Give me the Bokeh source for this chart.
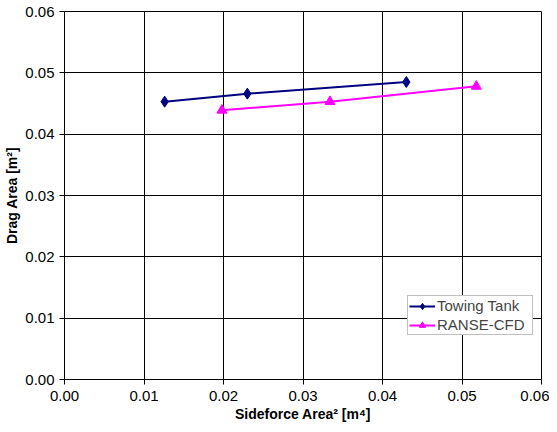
from bokeh.plotting import figure
from bokeh.embed import file_html
from bokeh.resources import INLINE
from bokeh.models import Range1d, FixedTicker, Legend, LegendItem, NumeralTickFormatter

tow_x = [0.0126, 0.0230, 0.0430]
tow_y = [0.0453, 0.0466, 0.0485]
cfd_x = [0.0198, 0.0334, 0.0518]
cfd_y = [0.0439, 0.0453, 0.0478]
ticks = [0.0, 0.01, 0.02, 0.03, 0.04, 0.05, 0.06]

p = figure(width=549, height=424, output_backend="svg", toolbar_location=None,
           x_range=Range1d(0, 0.06), y_range=Range1d(0, 0.06),
           min_border_left=64, min_border_right=8, min_border_top=11, min_border_bottom=45)
p.outline_line_color = "black"
p.outline_line_width = 1
p.background_fill_color = "white"
p.border_fill_color = "white"

for ax in (p.xaxis[0], p.yaxis[0]):
    ax.ticker = FixedTicker(ticks=ticks)
    ax.formatter = NumeralTickFormatter(format="0.00")
    ax.major_label_text_font = "Liberation Sans"
    ax.major_label_text_font_size = "15px"
    ax.major_label_text_color = "black"
    ax.axis_label_text_font = "Liberation Sans"
    ax.axis_label_text_font_size = "14px"
    ax.axis_label_text_font_style = "bold"
    ax.axis_label_text_color = "black"
    ax.axis_line_color = "black"
    ax.major_tick_line_color = "black"
    ax.major_tick_out = 5
    ax.major_tick_in = 0
    ax.minor_tick_line_color = None
p.xaxis.axis_label = "Sideforce Area² [m⁴]"
p.yaxis.axis_label = "Drag Area [m²]"
p.xaxis.axis_label_standoff = 2
p.yaxis.axis_label_standoff = 2
p.xaxis.major_label_standoff = 6
p.yaxis.major_label_standoff = 5

p.xgrid.ticker = FixedTicker(ticks=ticks)
p.ygrid.ticker = FixedTicker(ticks=ticks)
p.xgrid.grid_line_color = "black"
p.ygrid.grid_line_color = "black"
p.xgrid.grid_line_width = 1
p.ygrid.grid_line_width = 1

l1 = p.line(tow_x, tow_y, line_color="#000080", line_width=2)
m1 = p.scatter(tow_x, tow_y, marker="diamond", size=11, fill_color="#000080", line_color="#000080")
l2 = p.line(cfd_x, cfd_y, line_color="#FF00FF", line_width=2)
m2 = p.scatter(cfd_x, cfd_y, marker="triangle", size=10, fill_color="#FF00FF", line_color="#FF00FF")

legend = Legend(items=[LegendItem(label="Towing Tank", renderers=[l1, m1]),
                       LegendItem(label="RANSE-CFD", renderers=[l2, m2])],
                location=(343, 44))
legend.label_text_font = "Liberation Sans"
legend.label_text_font_size = "15px"
legend.label_height = 16
legend.label_width = 94
legend.glyph_height = 16
legend.glyph_width = 26
legend.spacing = 2
legend.padding = 1
legend.margin = 0
legend.label_standoff = 2
legend.border_line_color = "#808080"
legend.border_line_width = 1
legend.background_fill_alpha = 1
legend.background_fill_color = "white"
p.add_layout(legend, "center")

open("out.html", "w").write(file_html(p, INLINE))
